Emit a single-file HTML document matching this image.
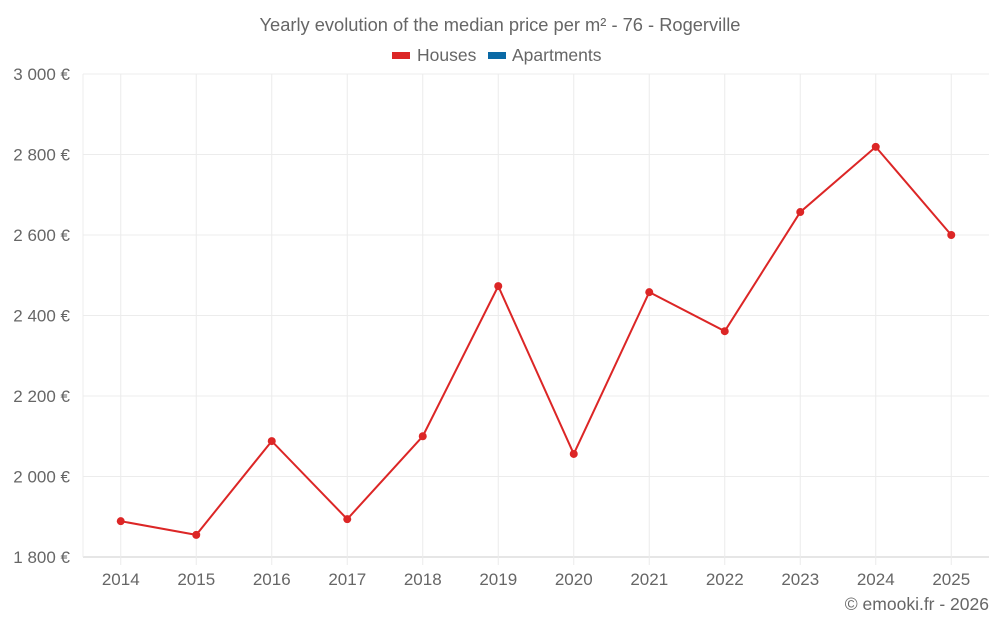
<!DOCTYPE html>
<html><head><meta charset="utf-8"><style>
body{margin:0;background:#fff;width:1000px;height:625px;overflow:hidden}
svg text{font-family:"Liberation Sans",sans-serif;fill:#666}
</style></head><body>
<svg id="c" width="1000" height="625">
<text x="500" y="31" text-anchor="middle" font-size="18.3">Yearly evolution of the median price per m² - 76 - Rogerville</text>
<g>
<rect x="392" y="52" width="18" height="7" fill="#dc2626"/>
<text x="417" y="61" font-size="17.5">Houses</text>
<rect x="488" y="52" width="18" height="7" fill="#0a69a5"/>
<text x="512" y="61" font-size="17.5">Apartments</text>
</g>
<text x="989" y="610" text-anchor="end" font-size="17.5">© emooki.fr - 2026</text>
</svg>
<script>
const years=["2014","2015","2016","2017","2018","2019","2020","2021","2022","2023","2024","2025"];
const houses=[1889,1855,2088,1894,2100,2473,2056,2458,2361,2657,2819,2600];
const yTicks=[1800,2000,2200,2400,2600,2800,3000];
const yTickLabels=["1 800 €","2 000 €","2 200 €","2 400 €","2 600 €","2 800 €","3 000 €"];
const svg=document.getElementById('c'),NS='http://www.w3.org/2000/svg';
const L=83,R=989,T=74,B=557,yMin=1800,yMax=3000;
const bw=(R-L)/years.length;
const X=i=>L+bw*(i+0.5);
const Y=v=>B-(v-yMin)/(yMax-yMin)*(B-T);
function mk(t,a){const e=document.createElementNS(NS,t);for(const k in a)e.setAttribute(k,a[k]);svg.insertBefore(e,svg.querySelector('g'));return e;}
yTicks.forEach((v,i)=>{
 const g=mk('line',{x1:L,x2:R,y1:Y(v),y2:Y(v),stroke:i==0?'#ccc':'#ececec'});
 
 
 const t=mk('text',{x:70,y:Y(v)+6,'text-anchor':'end','font-size':17});
 t.textContent=yTickLabels[i];
 
 
});
const lg=mk('line',{x1:L,x2:L,y1:T,y2:B,stroke:'#ececec'});


years.forEach((y,i)=>{
 const g=mk('line',{x1:X(i),x2:X(i),y1:T,y2:B+8,stroke:'#ececec'});
 
 
 const t=mk('text',{x:X(i),y:585,'text-anchor':'middle','font-size':17});
 t.textContent=y;
 
 
});
const p=mk('polyline',{points:houses.map((v,i)=>X(i)+','+Y(v)).join(' '),fill:'none',stroke:'#dc2626','stroke-width':2});


houses.forEach((v,i)=>{
 const c=mk('circle',{cx:X(i),cy:Y(v),r:4,fill:'#dc2626'});
 
 
});
</script>
</body></html>
